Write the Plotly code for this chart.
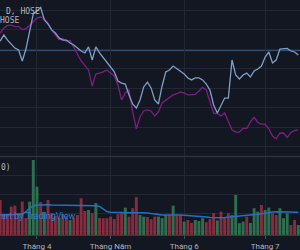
import plotly.graph_objects as go

# ---- data ----
month_idx = [10, 30, 50, 72]
month_labels = ["Tháng 4", "Tháng Năm", "Tháng 6", "Tháng 7"]

main_close = [1084.1, 1087.2, 1084.6, 1082.6, 1080.5, 1079.5, 1073.9, 1080.0, 1089.2, 1098.0,
              1099.5, 1101.3, 1094.9, 1092.8, 1089.8, 1088.2, 1085.7, 1084.6, 1084.6, 1083.1,
              1082.1, 1080.3, 1079.0, 1078.0, 1081.1, 1074.4, 1081.1, 1078.0, 1075.4, 1073.4,
              1070.8, 1068.3, 1063.6, 1062.6, 1062.1, 1056.5, 1051.9, 1049.8, 1053.9, 1060.6,
              1063.1, 1060.1, 1053.9, 1051.9, 1061.1, 1068.3, 1069.3, 1071.3, 1069.8, 1068.3,
              1067.2, 1065.2, 1064.2, 1065.2, 1065.2, 1064.2, 1062.1, 1059.0, 1051.4, 1047.3,
              1050.8, 1054.9, 1054.9, 1074.4, 1066.7, 1064.7, 1066.7, 1067.7, 1065.7, 1068.8,
              1069.8, 1071.3, 1075.9, 1078.5, 1072.9, 1074.4, 1080.0, 1080.0, 1080.3, 1079.0,
              1078.5, 1077.0]

compare_close = [1088.2, 1090.8, 1092.1, 1092.3, 1091.5, 1091.5, 1090.0, 1090.5, 1092.1, 1094.0,
                 1095.9, 1096.4, 1095.4, 1093.3, 1089.8, 1087.2, 1084.9, 1085.4, 1083.9, 1084.4,
                 1080.8, 1078.0, 1073.9, 1071.6, 1069.3, 1061.1, 1067.2, 1067.7, 1068.3, 1069.3,
                 1067.5, 1066.2, 1061.6, 1053.9, 1057.5, 1059.0, 1047.8, 1039.1, 1045.2, 1048.3,
                 1048.8, 1048.3, 1045.7, 1047.8, 1052.4, 1053.9, 1055.2, 1056.5, 1057.2, 1058.0,
                 1057.5, 1056.5, 1056.7, 1056.8, 1058.5, 1060.4, 1059.0, 1052.4, 1047.1, 1047.0,
                 1045.7, 1047.3, 1042.7, 1038.6, 1037.5, 1037.5, 1039.4, 1039.4, 1042.7, 1045.0,
                 1042.4, 1041.6, 1041.6, 1039.1, 1035.5, 1034.0, 1036.9, 1037.0, 1034.7, 1037.3,
                 1038.3, 1038.6]

price_line = 1079.2

volume = [17.5, 10.5, 10.0, 14.2, 14.7, 10.5, 16.7, 8.5, 16.7, 37.5,
          24.2, 16.5, 11.5, 17.5, 11.0, 9.5, 8.5, 10.5, 9.0, 7.5,
          8.5, 10.0, 18.4, 12.0, 12.5, 11.0, 16.0, 8.5, 8.4, 8.4,
          9.2, 8.0, 10.5, 10.9, 13.7, 9.2, 13.4, 18.9, 10.0, 9.2,
          9.0, 7.9, 9.2, 9.2, 8.4, 10.0, 10.0, 14.7, 10.0, 10.0,
          6.7, 7.5, 6.0, 7.5, 7.0, 8.4, 6.4, 7.9, 11.0, 7.3,
          11.7, 9.0, 11.0, 10.0, 20.0, 5.9, 6.7, 9.2, 6.0, 13.4,
          11.7, 15.0, 12.5, 13.7, 10.9, 10.0, 13.4, 8.4, 10.9, 5.0,
          7.5, 5.0]

volume_up = [0, 0, 0, 0, 0, 0, 0, 0, 1, 1,
             1, 0, 1, 0, 0, 0, 1, 0, 0, 1,
             0, 0, 0, 0, 1, 0, 1, 0, 0, 0,
             0, 0, 0, 0, 1, 0, 0, 0, 1, 1,
             0, 0, 0, 1, 1, 1, 0, 1, 0, 0,
             1, 0, 0, 1, 1, 1, 0, 0, 0, 1,
             0, 0, 0, 1, 1, 1, 1, 0, 1, 1,
             1, 0, 1, 1, 0, 0, 1, 1, 1, 0,
             0, 1]

volume_ma = [10.0, 10.0, 10.0, 10.25, 10.25, 10.5, 10.5, 11.5, 13.5, 14.5,
             15.0, 15.0, 15.15, 15.15, 15.0, 15.0, 14.85, 14.85, 14.85, 14.75,
             14.75, 14.75, 14.75, 14.75, 14.65, 14.65, 14.65, 14.25, 13.0, 11.75,
             11.35, 11.25, 11.25, 11.25, 11.25, 11.15, 11.15, 11.25, 11.25, 11.15,
             11.0, 10.85, 10.65, 10.25, 10.0, 10.0, 10.15, 10.35, 10.25, 10.0,
             9.85, 9.75, 9.65, 9.65, 9.4, 9.25, 9.0, 8.75, 8.65, 8.65,
             8.65, 8.75, 8.9, 9.15, 9.35, 9.5, 9.65, 9.85, 10.0, 10.25,
             10.35, 10.65, 11.0, 11.35, 11.5, 11.6, 11.65, 11.65, 11.6, 11.5,
             11.4, 11.35]

# ---- styling ----
BG = "#131722"
GRID = "#232734"
TEXT = "#b2b5be"
UP = "#2f6f50"
DOWN = "#832d3e"

idx = list(range(len(main_close)))
bar_colors = [UP if u else DOWN for u in volume_up]

fig = go.Figure()
fig.add_trace(go.Bar(x=idx, y=volume, marker_color=bar_colors, marker_line_width=0,
                     xaxis="x2", yaxis="y2", hoverinfo="skip"))
fig.add_trace(go.Scatter(x=idx, y=volume_ma, mode="lines", line=dict(color="#2370c4", width=1.5),
                         xaxis="x2", yaxis="y2", hoverinfo="skip"))
fig.add_trace(go.Scatter(x=idx, y=compare_close, mode="lines", line=dict(color="#7d1f82", width=1.3),
                         xaxis="x", yaxis="y", hoverinfo="skip"))
fig.add_trace(go.Scatter(x=idx, y=main_close, mode="lines", line=dict(color="#7f9fc8", width=1.3),
                         xaxis="x", yaxis="y", hoverinfo="skip"))

xr = [-0.05, 81.47]
H = 250
B = 15
PH = H - B

fig.update_layout(
    width=300, height=250,
    margin=dict(l=0, r=0, t=0, b=B, pad=0),
    paper_bgcolor=BG, plot_bgcolor=BG,
    showlegend=False, bargap=0.2,
    xaxis=dict(domain=[0, 1], anchor="y", range=xr, tickmode="array", tickvals=month_idx,
               showticklabels=False, showgrid=True, gridcolor=GRID, gridwidth=1,
               zeroline=False, showline=False, ticks=""),
    yaxis=dict(domain=[(PH - 156) / PH, 1], range=[1025.24, 1105.12], tickmode="linear",
               tick0=1000, dtick=10, showticklabels=False, showgrid=True, gridcolor=GRID,
               zeroline=False),
    xaxis2=dict(domain=[0, 1], anchor="y2", range=xr, tickmode="array", tickvals=month_idx,
                ticktext=month_labels, showgrid=True, gridcolor=GRID, gridwidth=1,
                zeroline=False, showline=True, linecolor="#363a45", linewidth=1,
                ticks="outside", ticklen=3, tickcolor="#4a4e59",
                tickfont=dict(family="Roboto", size=8, color=TEXT)),
    yaxis2=dict(domain=[0, (PH - 157) / PH], range=[0, 39], tickmode="linear",
                tick0=1.6, dtick=9.35, showticklabels=False, showgrid=True, gridcolor=GRID,
                zeroline=False),
)

fig.add_shape(type="line", xref="paper", yref="y", x0=0, x1=1, y0=price_line, y1=price_line,
              line=dict(color="#3a5679", width=1), layer="below")
fig.add_shape(type="line", xref="paper", yref="paper", x0=0, x1=1,
              y0=(PH - 156.5) / PH, y1=(PH - 156.5) / PH,
              line=dict(color="#2e323d", width=1.5))

mono = dict(family="DejaVu Sans Mono", size=8, color=TEXT)
fig.add_annotation(text="D, HOSE", xref="paper", yref="paper", x=4 / 300, y=(PH - 11.2) / PH,
                   xanchor="left", yanchor="middle", showarrow=False, font=mono)
fig.add_annotation(text="HOSE", xref="paper", yref="paper", x=-2 / 300, y=(PH - 20.7) / PH,
                   xanchor="left", yanchor="middle", showarrow=False, font=mono)
fig.add_annotation(text="0)", xref="paper", yref="paper", x=-1 / 300, y=(PH - 167.5) / PH,
                   xanchor="left", yanchor="middle", showarrow=False, font=mono)
fig.add_annotation(text="art by TradingView", xref="paper", yref="paper", x=-1 / 300,
                   y=(PH - 216) / PH, xanchor="left", yanchor="middle", showarrow=False,
                   font=dict(family="Roboto", size=9, color="#2f7fd6"))

fig.write_html("out.html")
